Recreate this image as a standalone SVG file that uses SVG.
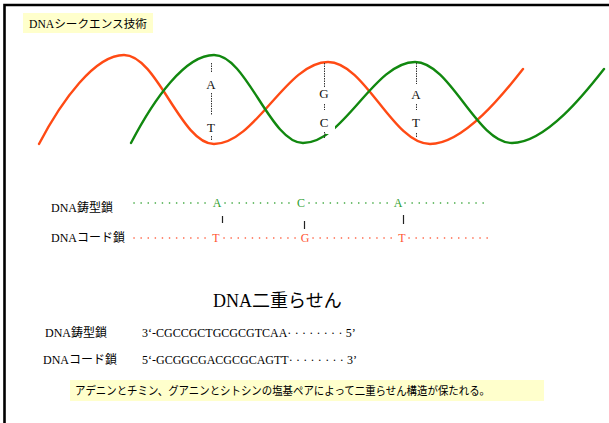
<svg xmlns="http://www.w3.org/2000/svg" width="609" height="423" viewBox="0 0 609 423">
  <style>
    .jp { font-family: "Liberation Serif", "Noto Sans CJK JP", serif; fill: #000; }
    .gothic { font-family: "Noto Sans CJK JP", "Liberation Sans", sans-serif; fill: #000; }
    .base { font-family: "Liberation Serif", serif; font-size: 13px; fill: #111; text-anchor: middle; }
    .strandLetter { font-family: "Liberation Serif", serif; font-size: 12px; text-anchor: middle; }
    .pair { stroke: #333; stroke-width: 1; stroke-dasharray: 1.5 1; fill: none; }
    .red { stroke: #ff4a14; stroke-width: 2.4; fill: none; stroke-linecap: round; }
    .green { stroke: #11880f; stroke-width: 2.4; fill: none; stroke-linecap: round; }
    .dots { stroke-width: 1.6; stroke-linecap: round; stroke-dasharray: 0.1 7; fill: none; }
    .tick { stroke: #222; stroke-width: 1.2; }
    .note { fill: #ffffcc; }
  </style>

  <rect width="609" height="423" fill="#ffffff"/>
  <!-- frame: only top and left edges fall inside the canvas -->
  <path d="M4.5,423 V5 H609" fill="none" stroke="#000" stroke-width="2.6"/>

  <!-- title note -->
  <g id="title">
    <rect class="note" x="23" y="13" width="130" height="20"/>
    <text class="jp" x="29" y="28" font-size="11.5" textLength="118" lengthAdjust="spacingAndGlyphs">DNAシークエンス技術</text>
  </g>

  <!-- double helix strands -->
  <g id="connectors">
    <path id="strand-red" class="red" d="M39,144 C62,100 95,55 124,55 C157,55 181,144 214,144 C255.5,144 286.5,62 328,62 C365,62 393,144 430,144 C464,144 505,92 523,69"/>
    <path id="strand-green" class="green" d="M131,143 C154,99 185,55 214,55 C246.4,55 270.6,143 303,143 C343.8,143 374.2,62 415,62 C450.3,62 476.7,143 512,143 C546,143 586,92 604,69"/>
    <!-- label backing behind C breaks the green strand -->
    <rect x="326" y="123" width="9" height="11" fill="#fff"/>

    <!-- base pair A-T -->
    <path class="pair" d="M211.5,63 V73 M211.5,93 V115 M211.5,136 V140"/>
    <!-- base pair G-C -->
    <path class="pair" d="M324.5,63 V87 M324.5,104 V110 M324.5,132 V138"/>
    <!-- base pair A-T -->
    <path class="pair" d="M416.5,63 V84 M416.5,104 V110 M416.5,133 V138"/>
  </g>

  <g id="bases">
    <text class="base" x="211" y="89">A</text>
    <text class="base" x="211" y="132">T</text>
    <text class="base" x="324" y="98">G</text>
    <text class="base" x="324" y="127">C</text>
    <text class="base" x="416" y="99">A</text>
    <text class="base" x="416" y="127">T</text>
  </g>

  <!-- template strand row -->
  <g id="template-row">
    <text class="jp" x="51" y="212" font-size="12">DNA鋳型鎖</text>
    <path class="dots" stroke="#2ea02e" d="M134,203 H210 M225,203 H295 M309,203 H391 M405,203 H488"/>
    <text class="strandLetter" fill="#2ea02e" x="217" y="207">A</text>
    <text class="strandLetter" fill="#2ea02e" x="301" y="207">C</text>
    <text class="strandLetter" fill="#2ea02e" x="398" y="207">A</text>
  </g>

  <!-- hydrogen bond ticks -->
  <g id="ticks">
    <line class="tick" x1="222.5" y1="216" x2="222.5" y2="223"/>
    <line class="tick" x1="304.5" y1="221" x2="304.5" y2="229"/>
    <line class="tick" x1="403.5" y1="215" x2="403.5" y2="224"/>
  </g>

  <!-- coding strand row -->
  <g id="coding-row">
    <text class="jp" x="51" y="242" font-size="12">DNAコード鎖</text>
    <path class="dots" stroke="#ff5533" d="M134,238 H210 M224,238 H298 M313,238 H395 M409,238 H492"/>
    <text class="strandLetter" fill="#ff5533" x="216" y="242">T</text>
    <text class="strandLetter" fill="#ff5533" x="305" y="242">G</text>
    <text class="strandLetter" fill="#ff5533" x="402" y="242">T</text>
  </g>

  <!-- sequence block -->
  <g id="sequences">
    <text class="jp" x="213" y="307" font-size="18">DNA二重らせん</text>
    <text class="jp" x="45" y="337" font-size="12">DNA鋳型鎖</text>
    <text class="jp" x="142" y="337" font-size="12">3‘-CGCCGCTGCGCGTCAA<tspan letter-spacing="3.3">········</tspan>5’</text>
    <text class="jp" x="43" y="364" font-size="12">DNAコード鎖</text>
    <text class="jp" x="142" y="364" font-size="12">5‘-GCGGCGACGCGCAGTT<tspan letter-spacing="3.3">········</tspan>3’</text>
  </g>

  <!-- caption note -->
  <g id="caption">
    <rect class="note" x="70" y="380" width="474" height="21"/>
    <text class="gothic" x="75" y="395" font-size="11.8" textLength="415" lengthAdjust="spacingAndGlyphs">アデニンとチミン、グアニンとシトシンの塩基ペアによって二重らせん構造が保たれる。</text>
  </g>
</svg>
